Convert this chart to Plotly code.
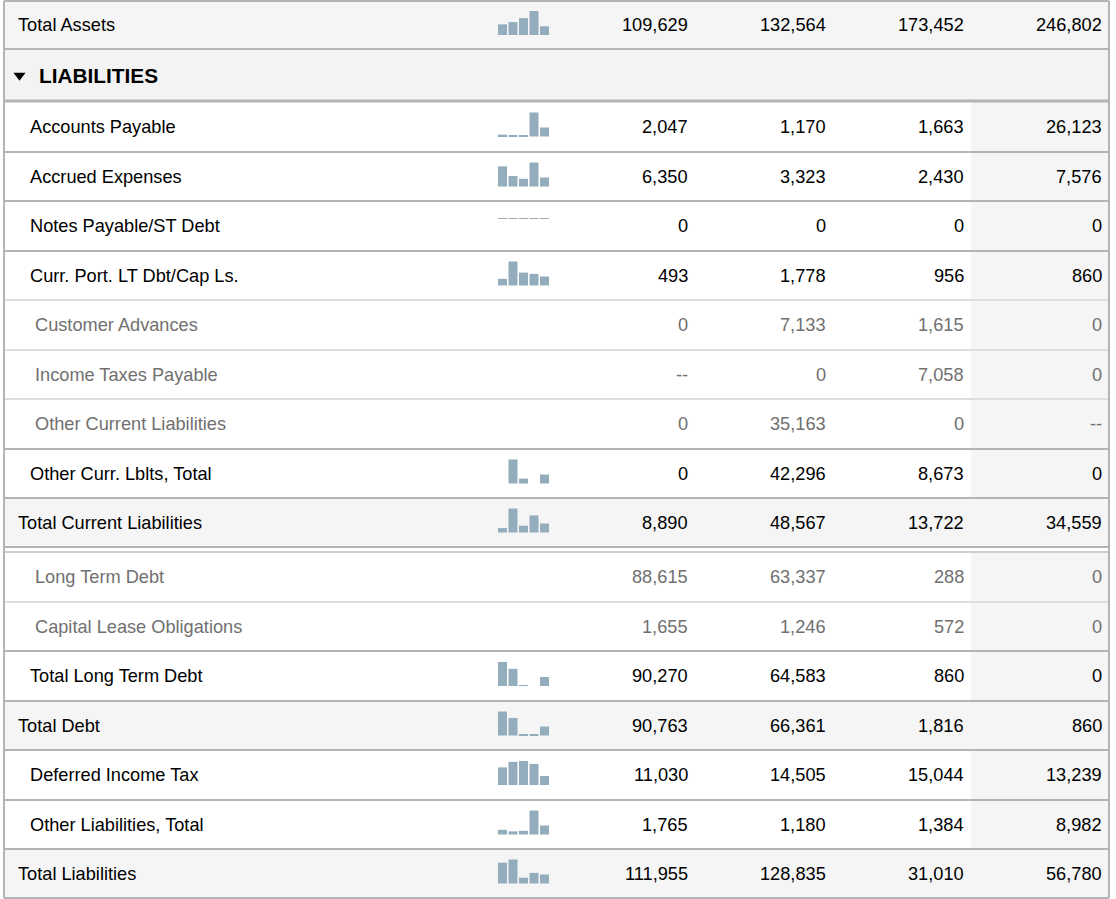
import plotly.graph_objects as go

# ---------------- data ----------------
labels = ["Total Assets", "LIABILITIES", "Accounts Payable", "Accrued Expenses",
          "Notes Payable/ST Debt", "Curr. Port. LT Dbt/Cap Ls.", "Customer Advances",
          "Income Taxes Payable", "Other Current Liabilities", "Other Curr. Lblts, Total",
          "Total Current Liabilities", "Long Term Debt", "Capital Lease Obligations",
          "Total Long Term Debt", "Total Debt", "Deferred Income Tax",
          "Other Liabilities, Total", "Total Liabilities"]
kinds = ["total", "header", "sub", "sub", "sub", "sub", "detail", "detail", "detail",
         "sub", "total", "detail", "detail", "sub", "total", "sub", "sub", "total"]
# None = "--" (not available); header row has no values
col1 = [109629, None, 2047, 6350, 0, 493, 0, None, 0, 0, 8890, 88615, 1655, 90270, 90763, 11030, 1765, 111955]
col2 = [132564, None, 1170, 3323, 0, 1778, 7133, 0, 35163, 42296, 48567, 63337, 1246, 64583, 66361, 14505, 1180, 128835]
col3 = [173452, None, 1663, 2430, 0, 956, 1615, 7058, 0, 8673, 13722, 288, 572, 860, 1816, 15044, 1384, 31010]
col4 = [246802, None, 26123, 7576, 0, 860, 0, 0, None, 0, 34559, 0, 0, 0, 860, 13239, 8982, 56780]
# fifth (most recent) sparkline value
spark5 = [89500, None, 9800, 2840, 0, 667, None, None, None, 15860, 18200, None, None, 33850, 34000, 5640, 3370, 48300]
has_spark = [True, False, True, True, True, True, False, False, False, True, True,
             False, False, True, True, True, True, True]

# ---------------- layout constants ----------------
W, H = 1116, 899
row_h = [48, 52, 51, 49, 50, 49, 50, 49, 50, 49, 49, 50, 49, 50, 49, 50, 49, 49]
gap_before = {11: 5}
TOP = 1
X_LEFT, X_RIGHT = 4, 1109
SHADE_X0 = 971
VAL_RIGHT = [690, 828, 966, 1104]
LABEL_X = {"total": 16, "sub": 28, "detail": 33, "header": 37}
SP_X0, SP_STEP, SP_W, SP_H = 502.5, 10.5, 9, 24
BAR_COLOR = "#93adbc"
ZERO_COLOR = "#a9a9a9"
DARK = "#b4b4b4"
LIGHT = "#dedede"
GRAYBG = "#f5f5f5"
FONT = "Liberation Sans, Arial, sans-serif"
FS = 18.2

tops, bots = [], []
y = TOP
for i, h in enumerate(row_h):
    y += gap_before.get(i, 0)
    tops.append(y)
    y += h
    bots.append(y)

shapes = []
annotations = []

def rect(x0, y0, x1, y1, color):
    shapes.append(dict(type="rect", xref="x", yref="y", x0=x0, x1=x1, y0=y0, y1=y1,
                       fillcolor=color, line=dict(width=0), layer="below"))

def hline(yv, color, w=2):
    shapes.append(dict(type="line", xref="x", yref="y", x0=X_LEFT, x1=X_RIGHT, y0=yv, y1=yv,
                       line=dict(color=color, width=w), layer="above"))

# backgrounds
for i, k in enumerate(kinds):
    if k == "total":
        rect(X_LEFT, tops[i], X_RIGHT, bots[i], GRAYBG)
    elif k == "header":
        rect(X_LEFT, tops[i], X_RIGHT, bots[i], "#f3f3f3")
    else:
        rect(SHADE_X0, tops[i], X_RIGHT, bots[i], GRAYBG)

# horizontal lines
hline(tops[0], DARK)
for i in range(len(kinds)):
    if i == len(kinds) - 1:
        hline(bots[i], DARK)
        continue
    nxt = kinds[i + 1]
    if i + 1 in gap_before:
        hline(bots[i], DARK)
        hline(tops[i + 1], "#cfcfcf")
    elif nxt == "detail":
        hline(bots[i], LIGHT)
    elif kinds[i] == "header":
        hline(bots[i], DARK, 3)
    else:
        hline(bots[i], DARK)

# vertical borders
for xv in (X_LEFT, X_RIGHT):
    shapes.append(dict(type="line", xref="x", yref="y", x0=xv, x1=xv, y0=tops[0], y1=bots[-1],
                       line=dict(color=DARK, width=2), layer="above"))

# texts
tri_x, tri_y = [], []
for i, k in enumerate(kinds):
    cy = (tops[i] + bots[i]) / 2
    if k == "header":
        tri_x.append(19.5); tri_y.append(cy + 0.5)
        annotations.append(dict(x=LABEL_X[k], y=cy, xref="x", yref="y", text="<b>%s</b>" % labels[i],
                                showarrow=False, xanchor="left", yanchor="middle",
                                font=dict(family=FONT, size=20.8, color="#000000")))
        continue
    color = "#707070" if k == "detail" else "#000000"
    annotations.append(dict(x=LABEL_X[k], y=cy, xref="x", yref="y", text=labels[i], showarrow=False,
                            xanchor="left", yanchor="middle",
                            font=dict(family=FONT, size=FS, color=color)))
    for j, col in enumerate((col1, col2, col3, col4)):
        v = col[i]
        txt = "--" if v is None else f"{v:,}"
        annotations.append(dict(x=VAL_RIGHT[j], y=cy, xref="x", yref="y", text=txt, showarrow=False,
                                xanchor="right", yanchor="middle",
                                font=dict(family=FONT, size=FS, color=color)))

# sparklines
bx, by, bb = [], [], []
zx, zy, zb = [], [], []
for i in range(len(kinds)):
    if not has_spark[i]:
        continue
    vals = [col1[i], col2[i], col3[i], col4[i], spark5[i]]
    vals = [0 if v is None else v for v in vals]
    cy = (tops[i] + bots[i]) / 2
    bottom = cy + 10
    vmax = max(vals)
    for n, v in enumerate(vals):
        xc = SP_X0 + n * SP_STEP
        if vmax == 0:
            zx.append(xc); zy.append(-1); zb.append(cy - 7)
        elif v > 0:
            h = max(1.0, v / vmax * SP_H)
            bx.append(xc); by.append(-h); bb.append(bottom)

traces = [
    go.Bar(x=bx, y=by, base=bb, width=SP_W, marker=dict(color=BAR_COLOR, line=dict(width=0)),
           hoverinfo="skip", showlegend=False),
    go.Bar(x=zx, y=zy, base=zb, width=SP_W, marker=dict(color=ZERO_COLOR, line=dict(width=0)),
           hoverinfo="skip", showlegend=False),
    go.Scatter(x=tri_x, y=tri_y, mode="markers", hoverinfo="skip", showlegend=False,
               marker=dict(symbol="triangle-down", size=10.5, color="#000000", line=dict(width=0))),
]

fig = go.Figure(traces)
fig.update_layout(
    width=W, height=H, margin=dict(l=0, r=0, t=0, b=0),
    paper_bgcolor="white", plot_bgcolor="white",
    shapes=shapes, annotations=annotations, barmode="overlay",
    xaxis=dict(range=[0, W], visible=False, fixedrange=True),
    yaxis=dict(range=[H, 0], visible=False, fixedrange=True),
    showlegend=False,
)
fig.write_html("out.html", config={"displayModeBar": False},
               post_script="document.body.style.margin='0';document.body.style.overflow='hidden';")
